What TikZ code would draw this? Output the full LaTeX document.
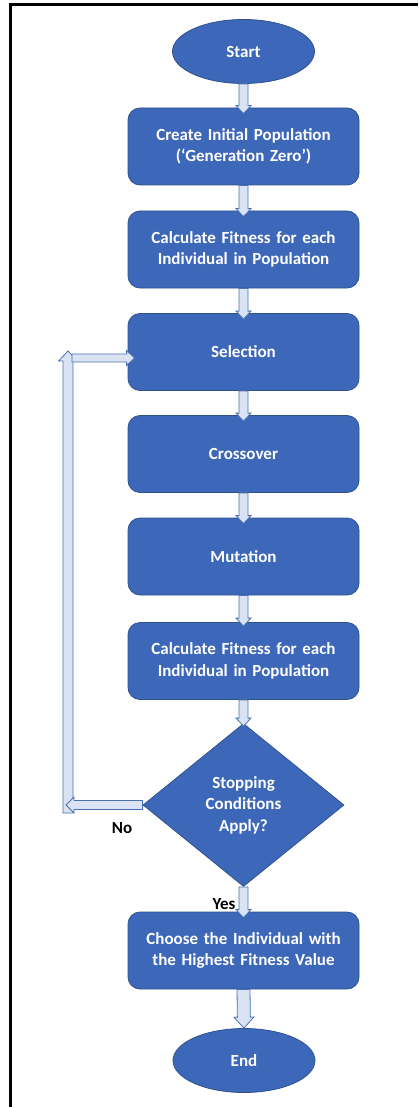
\documentclass[tikz,border=0pt]{standalone}
\usepackage{fontspec}
\setmainfont{Carlito}
\usetikzlibrary{shapes.geometric,calc}
\definecolor{boxfill}{HTML}{3D67B9}
\definecolor{boxline}{HTML}{2F528F}
\definecolor{arrfill}{HTML}{DAE3F3}
\definecolor{arrline}{HTML}{4A72B0}

% #1 overlap beyond target, #2 from, #3 to, #4 shaft half width, #5 head half width, #6 head length
\newcommand\blockarrow[6][5]{%
  \path let \p1=($(#3)-(#2)$), \n1={veclen(\x1,\y1)}, \n2={atan2(\y1,\x1)} in
    \pgfextra{\pgfmathsetmacro\BAt{\n1+#1}\pgfmathsetmacro\BAn{\n1+#1-#6}%
      \xdef\BAtip{\BAt}\xdef\BAneck{\BAn}\xdef\BAang{\n2}};
  \path[arrowbody, shift={(#2)}, rotate=\BAang]
    (0pt,-#4pt) -- (\BAneck pt,-#4pt) -- (\BAneck pt,-#5pt) -- (\BAtip pt,0pt)
    -- (\BAneck pt,#5pt) -- (\BAneck pt,#4pt) -- (0pt,#4pt) -- cycle;
}

\tikzset{
  base/.style={fill=boxfill, draw=boxline, line width=0.8pt, text=white,
    font=\fontsize{17}{21.5}\selectfont\bfseries, align=center, inner sep=0pt},
  term/.style={base, ellipse, minimum width=142, minimum height=64},
  proc/.style={base, rectangle, rounded corners=12pt, minimum width=231, minimum height=77, text width=222},
  decision/.style={base, diamond, aspect=1.23, minimum width=201, minimum height=163, text width=110},
  arrowbody/.style={fill=arrfill, draw=arrline, line width=0.8pt, line join=miter},
  lbl/.style={font=\fontsize{17}{20}\selectfont\bfseries, text=black, inner sep=0pt},
  frameline/.style={line width=3pt, draw=black}
}

\begin{document}
\begin{tikzpicture}[x=1pt, y=-1pt]
  \useasboundingbox (0,0) rectangle (418,1107);
  \draw[frameline] (10,1107) -- (10,4.5) -- (418,4.5);

  \node[term] (start) at (243.5,51.5) {Start};
  \node[proc] (b1) at (243.5,146.5) {Create Initial Population\\(‘Generation Zero’)};
  \node[proc] (b2) at (243.5,249.5) {Calculate Fitness for each\\Individual in Population};
  \node[proc] (sel) at (243.5,352) {Selection};
  \node[proc] (b4) at (243.5,454) {Crossover};
  \node[proc] (b5) at (243.5,556.5) {Mutation};
  \node[proc] (b6) at (243.5,661) {Calculate Fitness for each\\Individual in Population};
  \node[decision] (dia) at (243.5,805) {Stopping\\Conditions\\Apply?};
  \node[proc] (b7) at (243.5,950.5) {Choose the Individual with\\the Highest Fitness Value};
  \node[term] (end) at (244,1060.5) {End};

  \node[lbl] (no) at (122,828) {No};
  \node[lbl] (yes) at (224,904) {Yes};

  \coordinate (loopB) at (68,813);
  \coordinate (loopT) at (68,351);
  \coordinate (noEnd) at (66,805);
  \coordinate (loopR) at (72,358);
  \coordinate (selIn) at (sel.west |- loopR);

  \blockarrow[6]{start.south}{b1.north}{4.5}{7.5}{8}
  \blockarrow[6]{b1.south}{b2.north}{4.5}{7.5}{8}
  \blockarrow[6]{b2.south}{sel.north}{4.5}{7.5}{8}
  \blockarrow[6]{sel.south}{b4.north}{4.5}{7.5}{8}
  \blockarrow[6]{b4.south}{b5.north}{4.5}{7.5}{8}
  \blockarrow[4]{b5.south}{b6.north}{4.5}{7.5}{8}
  \blockarrow[3]{b6.south}{dia.north}{4.5}{7.5}{8}
  \blockarrow[6]{dia.south}{b7.north}{4.5}{7.5}{8}
  \blockarrow[0]{b7.south}{end.north}{6.5}{10}{11}
  \blockarrow[0]{loopB}{loopT}{5}{9.5}{10}
  \blockarrow[0]{dia.west}{noEnd}{4.5}{8}{8}
  \blockarrow[7]{loopR}{selIn}{4}{7.5}{8}
\end{tikzpicture}
\end{document}
